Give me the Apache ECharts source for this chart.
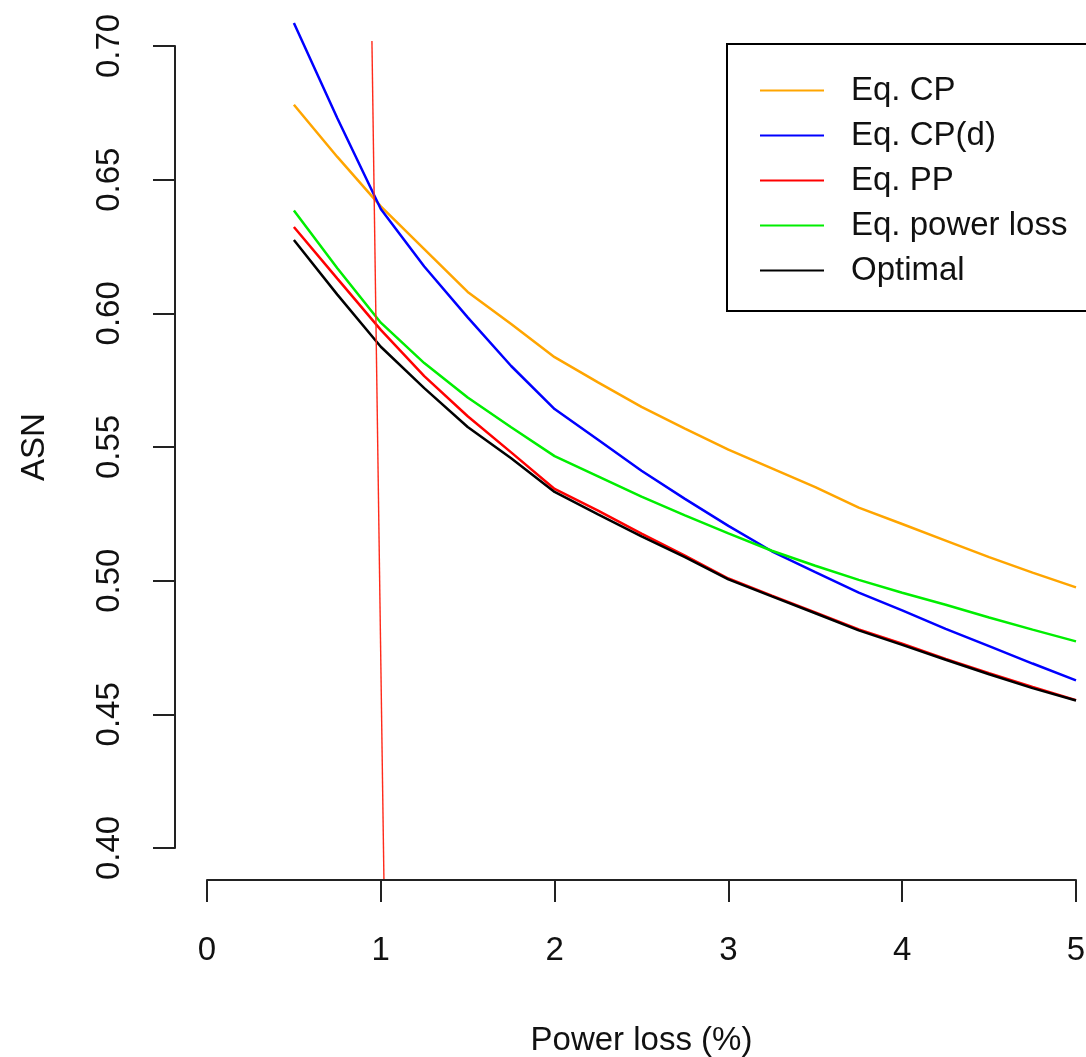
<!DOCTYPE html>
<html>
<head>
<meta charset="utf-8">
<script src="https://cdn.jsdelivr.net/npm/echarts@6/dist/echarts.min.js"></script>
<style>
  html, body { margin: 0; padding: 0; background: #fff; }
  #main { width: 1086px; height: 1057px; }
</style>
</head>
<body>
<div id="main"></div>
<script>
// power loss (%) grid
var powerLoss = [0.5, 0.75, 1, 1.25, 1.5, 1.75, 2, 2.25, 2.5, 2.75, 3, 3.25, 3.5, 3.75, 4, 4.25, 4.5, 4.75, 5];

// ASN per method
var eqCP      = [0.678, 0.6585, 0.640, 0.624, 0.608, 0.596, 0.5836, 0.5742, 0.565, 0.5569, 0.549, 0.542, 0.535, 0.5273, 0.5212, 0.515, 0.5088, 0.503, 0.4975];
var eqCPd     = [0.7086, 0.673, 0.639, 0.6175, 0.5985, 0.5803, 0.5642, 0.5527, 0.5411, 0.5306, 0.5205, 0.511, 0.5032, 0.4955, 0.4889, 0.482, 0.4755, 0.469, 0.4627];
var eqPP      = [0.6323, 0.613, 0.5938, 0.5765, 0.5615, 0.548, 0.5343, 0.5262, 0.5176, 0.5094, 0.5008, 0.4944, 0.4881, 0.4818, 0.4764, 0.4707, 0.4654, 0.4602, 0.4553];
var eqPowLoss = [0.6385, 0.6169, 0.5965, 0.5814, 0.5685, 0.5574, 0.5466, 0.539, 0.5314, 0.5244, 0.5177, 0.5112, 0.5056, 0.5003, 0.4955, 0.491, 0.4862, 0.4817, 0.4773];
var optimal   = [0.6274, 0.607, 0.5875, 0.572, 0.5575, 0.5458, 0.5332, 0.5248, 0.5166, 0.5088, 0.5005, 0.4941, 0.4878, 0.4814, 0.476, 0.4704, 0.465, 0.4598, 0.4552];

// the thin red reference line (end points)
var refX = [0.949, 1.018];
var refY = [0.7019, 0.3884];

var yTicks = [0.40, 0.45, 0.50, 0.55, 0.60, 0.65, 0.70];
var xTicks = [0, 1, 2, 3, 4, 5];

var FONT = 'Liberation Sans';

function pairs(xs, ys) {
    var out = [];
    for (var i = 0; i < xs.length; i++) out.push([xs[i], ys[i]]);
    return out;
}

function curve(name, color, ys) {
    return {
        name: name,
        type: 'line',
        data: pairs(powerLoss, ys),
        showSymbol: false,
        clip: false,
        color: color,
        lineStyle: { color: color, width: 2.5 },
        animation: false
    };
}

var myChart = echarts.init(document.getElementById('main'));
var option = {
    backgroundColor: '#fff',
    animation: false,
    grid: { left: 207, right: 10, top: 46, bottom: 209, outerBoundsMode: 'none', containLabel: false },
    legend: {
        data: ['Eq. CP', 'Eq. CP(d)', 'Eq. PP', 'Eq. power loss', 'Optimal'],
        orient: 'vertical',
        left: 727,
        top: 44,
        padding: [30, 40, 24, 33],
        borderColor: '#000',
        borderWidth: 2,
        itemWidth: 64,
        itemHeight: 2,
        itemGap: 12,
        icon: 'rect',
        textStyle: { fontFamily: FONT, fontSize: 33, color: '#111', lineHeight: 32, padding: [0, 0, 0, 22] }
    },
    xAxis: {
        type: 'value',
        min: xTicks[0],
        max: xTicks[xTicks.length - 1],
        interval: 1,
        offset: 32,
        name: 'Power loss (%)',
        nameLocation: 'middle',
        nameGap: 144,
        nameTextStyle: { fontFamily: FONT, fontSize: 33, color: '#111' },
        splitLine: { show: false },
        axisLine: { show: true, onZero: false, lineStyle: { color: '#222', width: 2 } },
        axisTick: { show: true, length: 22, lineStyle: { color: '#222', width: 2 } },
        axisLabel: { fontFamily: FONT, fontSize: 33, color: '#111', margin: 54 }
    },
    yAxis: {
        type: 'value',
        min: yTicks[0],
        max: yTicks[yTicks.length - 1],
        interval: 0.05,
        offset: 32,
        name: 'ASN',
        nameLocation: 'middle',
        nameGap: 124,
        nameRotate: 90,
        nameTextStyle: { fontFamily: FONT, fontSize: 33, color: '#111' },
        splitLine: { show: false },
        axisLine: { show: true, onZero: false, lineStyle: { color: '#222', width: 2 } },
        axisTick: { show: true, length: 22, lineStyle: { color: '#222', width: 2 } },
        axisLabel: {
            fontFamily: FONT, fontSize: 33, color: '#111', rotate: 90, margin: 49,
            formatter: function (v) { return v.toFixed(2); }
        }
    },
    series: [
        curve('Eq. CP', '#FFA500', eqCP),
        curve('Eq. CP(d)', '#0000FF', eqCPd),
        curve('Eq. PP', '#FF0000', eqPP),
        curve('Eq. power loss', '#00EE00', eqPowLoss),
        curve('Optimal', '#000000', optimal),
        {
            name: 'ref',
            type: 'line',
            data: pairs(refX, refY),
            showSymbol: false,
            clip: false,
            lineStyle: { color: '#FF2A1A', width: 1.4 },
            animation: false
        }
    ]
};
myChart.setOption(option);
window.addEventListener("resize", function () {
    myChart.resize();
});
</script>
</body>
</html>
